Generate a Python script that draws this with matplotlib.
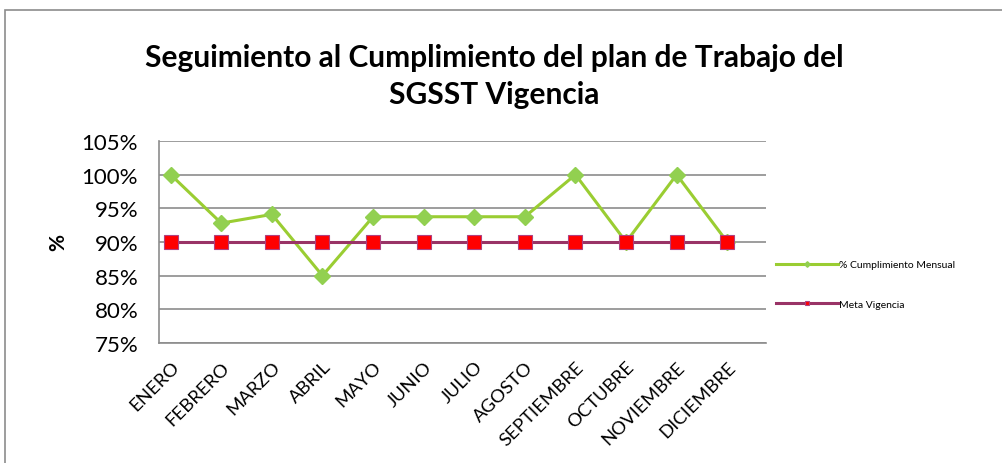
import numpy as np
import matplotlib
matplotlib.use("Agg")
import matplotlib.pyplot as plt
from matplotlib.patches import Rectangle
from matplotlib.ticker import FuncFormatter

plt.rcParams['font.family'] = ['Lato', 'DejaVu Sans']

# Datos
meses = ['ENERO', 'FEBRERO', 'MARZO', 'ABRIL', 'MAYO', 'JUNIO', 'JULIO',
         'AGOSTO', 'SEPTIEMBRE', 'OCTUBRE', 'NOVIEMBRE', 'DICIEMBRE']
cumplimiento = [1.00, 0.928, 0.941, 0.85, 0.9375, 0.9375, 0.9375, 0.9375,
                1.00, 0.90, 1.00, 0.90]
meta = [0.90] * 12

fig = plt.figure(figsize=(10.02, 4.64), dpi=100)
fig.patches.append(Rectangle((0.005, -0.01), 1.2, 0.987, transform=fig.transFigure,
                             fill=False, edgecolor='#8c8c8c', linewidth=1.2))

ax = fig.add_axes([0.1587, 0.2586, 0.606, 0.4354])
x = np.arange(len(meses))

ax.plot(x, cumplimiento, color='#9ACD32', linewidth=2.2, marker='D',
        markersize=8, markerfacecolor='#92D050', markeredgecolor='#92D050',
        label='% Cumplimiento Mensual', zorder=3)
ax.plot(x, meta, color='#993366', linewidth=2.2, marker='s', markersize=10,
        markerfacecolor='#FF0000', markeredgecolor='#B04080',
        markeredgewidth=0.8, label='Meta Vigencia', zorder=4)

ax.set_ylim(0.75, 1.05)
ax.set_xlim(-0.23, 11.77)
ax.set_yticks(np.arange(0.75, 1.0501, 0.05))
ax.yaxis.set_major_formatter(FuncFormatter(lambda v, p: f'{v*100:.0f}%'))
ax.grid(axis='y', color='#8c8c8c', linewidth=1.2)
ax.set_axisbelow(True)
for s in ['top', 'right']:
    ax.spines[s].set_visible(False)
for s in ['left', 'bottom']:
    ax.spines[s].set_color('#8c8c8c')
    ax.spines[s].set_linewidth(1.2)

ax.set_xticks(x)
ax.set_xticklabels(meses, rotation=45, ha='right', rotation_mode='anchor',
                   fontsize=13.3)
ax.tick_params(axis='x', length=0, pad=11)
ax.tick_params(axis='y', length=0, labelsize=16, pad=15)
ax.set_ylabel('%', fontsize=15, fontweight='bold', labelpad=10)

fig.text(0.493, 0.875, 'Seguimiento al Cumplimiento del plan de Trabajo del',
         ha='center', va='center', fontsize=21.5, fontweight='bold')
fig.text(0.493, 0.795, 'SGSST Vigencia', ha='center', va='center',
         fontsize=21.5, fontweight='bold')

leg = ax.legend(loc='center left', bbox_to_anchor=(1.0, 0.29), frameon=False,
                fontsize=7.5, handlelength=6, markerscale=0.35, labelspacing=2.9,
                handletextpad=0.1)

fig.savefig('out.png', dpi=100)
